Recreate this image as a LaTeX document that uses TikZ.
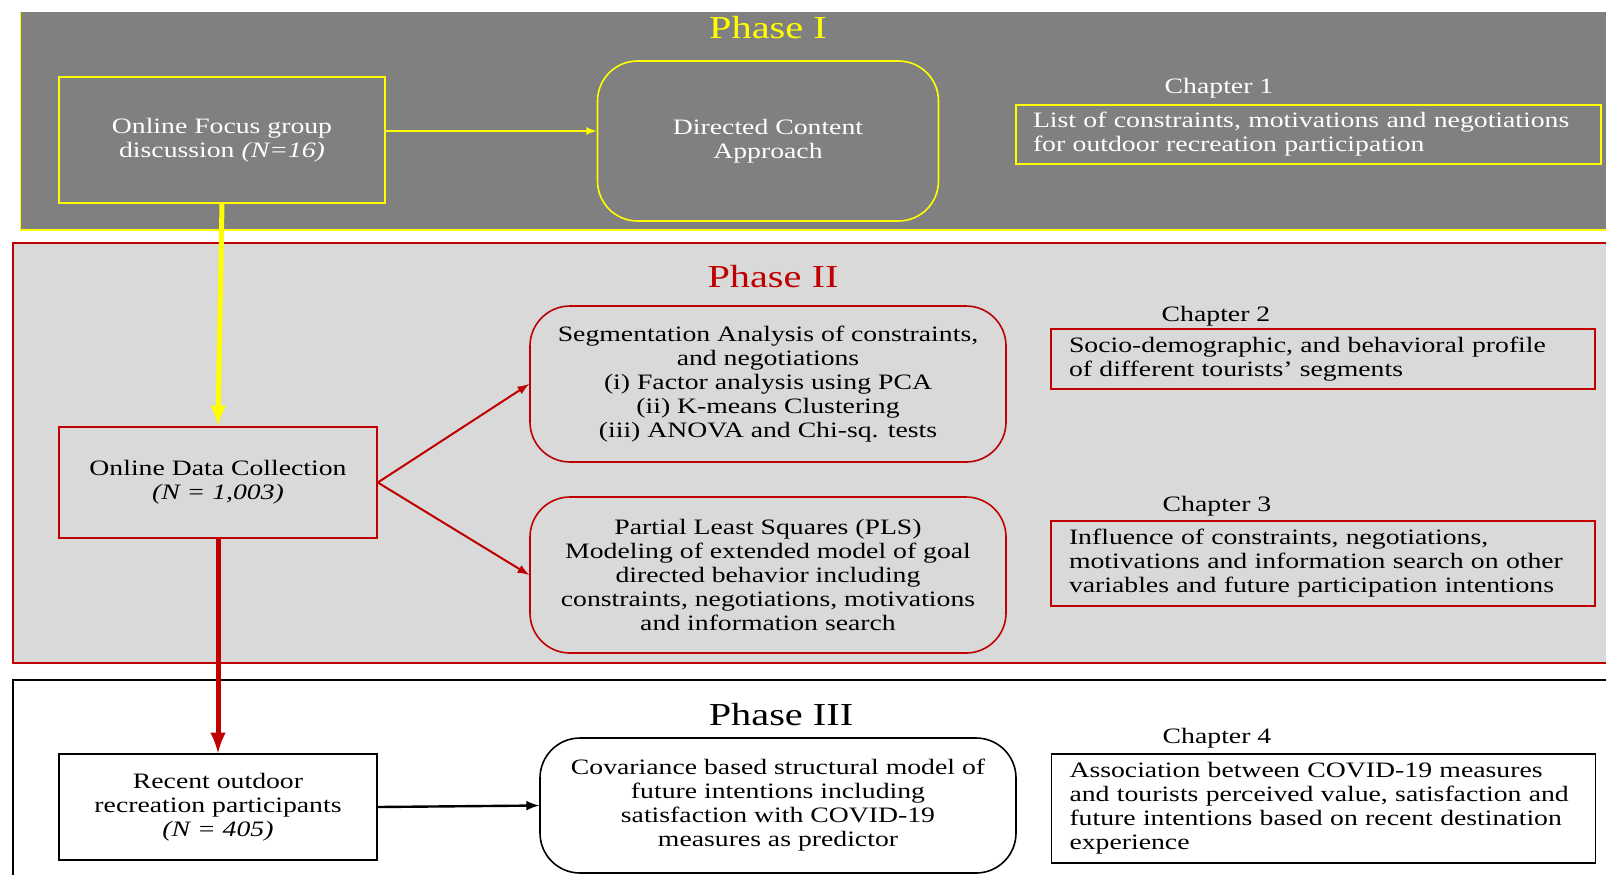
\documentclass[tikz,border=0pt]{standalone}
\usepackage{fontspec}
\setmainfont{Liberation Serif}[FakeStretch=1.26]
\usetikzlibrary{calc}

\definecolor{phaseyellow}{RGB}{255,255,0}
\definecolor{phasered}{RGB}{192,0,0}
\definecolor{darkband}{RGB}{128,128,128}
\definecolor{lightband}{RGB}{217,217,217}

\tikzset{
  txt/.style={font=\fontsize{11}{12}\selectfont},
  stepbox/.style={draw,thick,txt,align=center,inner sep=0pt},
  roundbox/.style={stepbox,rounded corners=20pt},
  chapbox/.style={draw,thick,txt,align=left,inner xsep=9pt,inner ysep=0pt,text width=254pt},
  chaplabel/.style={font=\fontsize{11}{13}\selectfont},
  phasetitle/.style={font=\fontsize{16}{19}\selectfont}
}

\begin{document}
\begin{tikzpicture}[x=0.5pt,y=-0.5pt]
\useasboundingbox (0,0) rectangle (1606,874);
\clip (0,0) rectangle (1606,874);

% bands
\fill[darkband] (20.5,12) rectangle (1620,230);
\draw[phaseyellow,thick] (1620,230) -- (20.5,230) -- (20.5,12);
\filldraw[fill=lightband,draw=phasered,thick] (13,243) rectangle (1620,663);
\filldraw[fill=white,draw=black,thick] (13,680) rectangle (1620,890);

% Phase I
\node[phasetitle,text=phaseyellow] (titleI) at (768,28) {Phase I};
\node[stepbox,draw=phaseyellow,text=white,minimum width=163pt,minimum height=63pt] (focus) at (222,140)
  {Online Focus group\\discussion \textit{(N=16)}};
\node[roundbox,draw=phaseyellow,text=white,minimum width=170.5pt,minimum height=80pt] (directed) at (768,141)
  {Directed Content\\Approach};
\node[chaplabel,text=white] (chapI) at (1219,88) {Chapter 1};
\node[chapbox,draw=phaseyellow,text=white,inner xsep=8.5pt,text width=275.5pt,minimum height=29.5pt] (resI) at (1308.5,134.5)
  {List of constraints, motivations and negotiations\\for outdoor recreation participation};

% Phase II
\node[phasetitle,text=phasered] (titleII) at (773,277) {Phase II};
\node[stepbox,draw=phasered,minimum width=159pt,minimum height=55.5pt] (data) at (218,482.5)
  {Online Data Collection\\\textit{(N = 1,003)}};
\node[roundbox,draw=phasered,minimum width=238pt,minimum height=78pt] (seg) at (768,384)
  {Segmentation Analysis of constraints,\\and negotiations\\(i) Factor analysis using PCA\\(ii) K-means Clustering\\(iii) ANOVA and Chi-sq. tests};
\node[roundbox,draw=phasered,minimum width=238pt,minimum height=78pt] (pls) at (768,575)
  {Partial Least Squares (PLS)\\Modeling of extended model of goal\\directed behavior including\\constraints, negotiations, motivations\\and information search};
\node[chaplabel] (chapII) at (1216,316) {Chapter 2};
\node[chapbox,draw=phasered,minimum height=30pt] (resII) at (1323,359)
  {Socio-demographic, and behavioral profile\\of different tourists’ segments};
\node[chaplabel] (chapIII) at (1217,506) {Chapter 3};
\node[chapbox,draw=phasered,minimum height=42.5pt] (resIII) at (1323,563.5)
  {Influence of constraints, negotiations,\\motivations and information search on other\\variables and future participation intentions};

% Phase III
\node[phasetitle] (titleIII) at (781,715) {Phase III};
\node[stepbox,minimum width=159pt,minimum height=53pt] (recent) at (218,807)
  {Recent outdoor\\recreation participants\\\textit{(N = 405)}};
\node[roundbox,minimum width=238pt,minimum height=67.5pt] (cov) at (778,805.5)
  {Covariance based structural model of\\future intentions including\\satisfaction with COVID-19\\measures as predictor};
\node[chaplabel] (chapIV) at (1217,738) {Chapter 4};
\node[chapbox,minimum height=54.5pt] (resIV) at (1323.5,808.5)
  {Association between COVID-19 measures\\and tourists perceived value, satisfaction and\\future intentions based on recent destination\\experience};

% connectors
\draw[->,>=latex,phaseyellow,thick] ([yshift=4.5pt]focus.east) -- ([yshift=4.5pt]focus.east -| directed.west);
\draw[->,>=latex,phaseyellow,line width=2.5pt] (focus.south) -- (data.north);
\draw[->,>=latex,phasered,line width=1pt] (data.east) -- (seg.west);
\draw[->,>=latex,phasered,line width=1pt] (data.east) -- (pls.west);
\draw[->,>=latex,phasered,line width=2.5pt] (data.south) -- (recent.north);
\draw[->,>=latex,line width=1.2pt] (recent.east) -- (cov.west);
\end{tikzpicture}
\end{document}
